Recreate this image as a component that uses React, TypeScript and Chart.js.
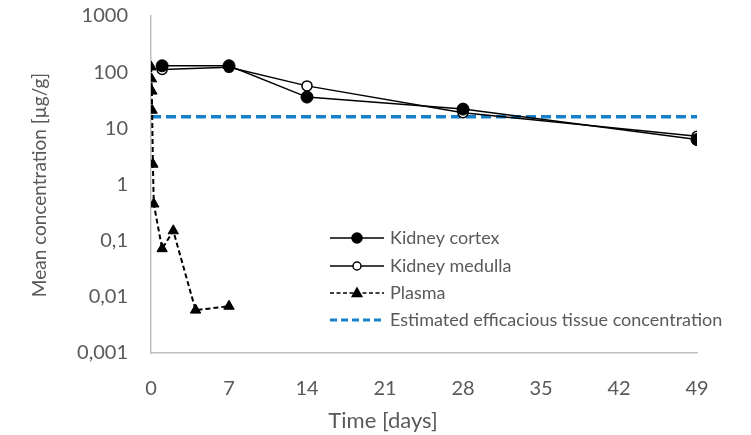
import React, { useEffect, useRef } from "react";
import { Chart, registerables } from "chart.js";

Chart.register(...registerables);

const cortexDays = [1, 7, 14, 28, 49];
const cortexValues = [130, 130, 36, 22, 6.3];
const medullaDays = [1, 7, 14, 28, 49];
const medullaValues = [112, 122, 57, 19, 7.2];
const plasmaDays = [0.02, 0.04, 0.08, 0.1, 0.17, 0.25, 1, 2, 4, 7];
const plasmaValues = [124, 76, 46, 21, 2.3, 0.45, 0.072, 0.15, 0.0058, 0.0068];
const efficaciousDays = [0, 49];
const efficaciousValues = [16, 16];
const xTicks = [0, 7, 14, 21, 28, 35, 42, 49];
const yTicks = [0.001, 0.01, 0.1, 1, 10, 100, 1000];
const yTickLabels = ["0,001", "0,01", "0,1", "1", "10", "100", "1000"];
const legendLabels = [
  "Kidney cortex",
  "Kidney medulla",
  "Plasma",
  "Estimated efficacious tissue concentration",
];
const xTitle = "Time [days]";
const yTitle = "Mean concentration [µg/g]";

const FONT = "Lato, 'Open Sans', sans-serif";
const GRAY = "#595959";
const BLUE = "#1681c9";

const toPts = (xs: number[], ys: number[]) => xs.map((x, i) => ({ x, y: ys[i] }));

const legendStyles = [
  { dash: [], width: 1.3, color: "#000", marker: "circle", fill: "#000", r: 5 },
  { dash: [], width: 1.3, color: "#000", marker: "circle", fill: "#fff", r: 4 },
  { dash: [4, 2.5], width: 1.5, color: "#000", marker: "triangle", fill: "#000", r: 5 },
  { dash: [7, 4], width: 3, color: BLUE, marker: "none", fill: BLUE, r: 0 },
];

const annotPlugin = {
  id: "annot",
  afterDraw(chart: any) {
    const ctx = chart.ctx;
    const x0 = 330;
    const x1 = 384;
    const ys = [238, 266, 293, 320];
    ctx.save();
    legendStyles.forEach((st, i) => {
      const y = ys[i];
      ctx.beginPath();
      ctx.setLineDash(st.dash);
      ctx.strokeStyle = st.color;
      ctx.lineWidth = st.width;
      ctx.moveTo(x0, y);
      ctx.lineTo(x1, y);
      ctx.stroke();
      ctx.setLineDash([]);
      const mx = (x0 + x1) / 2;
      if (st.marker !== "none") {
        const r = st.r;
        ctx.beginPath();
        if (st.marker === "triangle") {
          ctx.moveTo(mx, y - r);
          ctx.lineTo(mx + r * 0.95, y + r * 0.7);
          ctx.lineTo(mx - r * 0.95, y + r * 0.7);
          ctx.closePath();
        } else {
          ctx.arc(mx, y, r, 0, Math.PI * 2);
        }
        ctx.fillStyle = st.fill;
        ctx.fill();
        ctx.lineWidth = 1.5;
        ctx.strokeStyle = "#000";
        ctx.stroke();
      }
      ctx.fillStyle = GRAY;
      ctx.font = `18px ${FONT}`;
      ctx.textBaseline = "middle";
      ctx.textAlign = "left";
      ctx.fillText(legendLabels[i], 390, y);
    });
    // axis titles
    ctx.fillStyle = GRAY;
    ctx.textAlign = "center";
    ctx.textBaseline = "middle";
    ctx.font = `22px ${FONT}`;
    ctx.fillText(xTitle, 383, 421);
    ctx.translate(40, 185);
    ctx.rotate(-Math.PI / 2);
    ctx.font = `19px ${FONT}`;
    ctx.fillText(yTitle, 0, 0);
    ctx.restore();
  },
};

export default function App() {
  const ref = useRef<HTMLCanvasElement | null>(null);
  useEffect(() => {
    if (!ref.current) return;
    const chart = new Chart(ref.current, {
      type: "line",
      data: {
        datasets: [
          {
            label: legendLabels[0],
            data: toPts(cortexDays, cortexValues),
            borderColor: "#000",
            borderWidth: 1.5,
            pointRadius: 6,
            pointStyle: "circle",
            pointBackgroundColor: "#000",
            pointBorderColor: "#000",
            pointBorderWidth: 1,
          },
          {
            label: legendLabels[1],
            data: toPts(medullaDays, medullaValues),
            borderColor: "#000",
            borderWidth: 1.5,
            pointRadius: 5,
            pointStyle: "circle",
            pointBackgroundColor: "#fff",
            pointBorderColor: "#000",
            pointBorderWidth: 1.5,
          },
          {
            label: legendLabels[2],
            data: toPts(plasmaDays, plasmaValues),
            borderColor: "#000",
            borderWidth: 2,
            borderDash: [5, 3],
            pointRadius: 6,
            pointStyle: "triangle",
            pointBackgroundColor: "#000",
            pointBorderColor: "#000",
            pointBorderWidth: 1,
          },
          {
            label: legendLabels[3],
            data: toPts(efficaciousDays, efficaciousValues),
            borderColor: BLUE,
            borderWidth: 3.5,
            borderDash: [10, 5],
            pointRadius: 0,
          },
        ] as any,
      },
      options: {
        animation: false,
        responsive: false,
        maintainAspectRatio: false,
        layout: { padding: { left: 0, right: 54, top: 16, bottom: 0 } },
        plugins: { legend: { display: false }, tooltip: { enabled: false } },
        scales: {
          x: {
            type: "linear",
            min: 0,
            max: 49,
            afterBuildTicks: (s: any) => {
              s.ticks = xTicks.map((v) => ({ value: v }));
            },
            grid: { display: false },
            border: { display: true, color: "#bfbfbf", width: 1.5 },
            ticks: { color: GRAY, font: { family: FONT, size: 20 }, padding: 16 },
            afterFit: (s: any) => {
              s.height = 82;
              s.paddingLeft = 0;
              s.paddingRight = 0;
            },
          },
          y: {
            type: "logarithmic",
            min: 0.001,
            max: 1000,
            afterBuildTicks: (s: any) => {
              s.ticks = yTicks.map((v) => ({ value: v }));
            },
            grid: { display: false },
            border: { display: true, color: "#bfbfbf", width: 1.5 },
            ticks: {
              color: GRAY,
              font: { family: FONT, size: 20 },
              padding: 15,
              callback: (v: any) => {
                const i = yTicks.findIndex((t) => Math.abs(Math.log10(t) - Math.log10(v)) < 1e-6);
                return i >= 0 ? yTickLabels[i] : "";
              },
            },
            afterFit: (s: any) => {
              s.width = 151;
              s.paddingTop = 0;
              s.paddingBottom = 0;
            },
          },
        },
      } as any,
      plugins: [annotPlugin],
    });
    return () => chart.destroy();
  }, []);
  return (
    <div style={{ position: "absolute", left: 0, top: 0, width: 751, height: 435, background: "#fff" }}>
      <canvas ref={ref} width={751} height={435} style={{ width: 751, height: 435 }} />
    </div>
  );
}
